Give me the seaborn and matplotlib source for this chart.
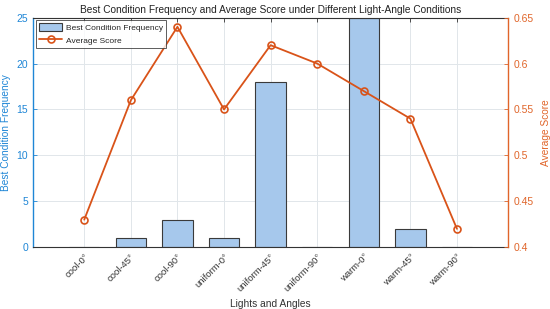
import numpy as np
import pandas as pd
import matplotlib
matplotlib.use("Agg")
import matplotlib.pyplot as plt
import seaborn as sns
from matplotlib.patches import Patch
from matplotlib.lines import Line2D

conditions = ["cool-0°", "cool-45°", "cool-90°", "uniform-0°", "uniform-45°",
              "uniform-90°", "warm-0°", "warm-45°", "warm-90°"]
best_freq = [0, 1, 3, 1, 18, 0, 25, 2, 0]
avg_score = [0.43, 0.56, 0.64, 0.55, 0.62, 0.60, 0.57, 0.54, 0.42]

blue = "#1f86d6"
orange = "#e0652a"
line_c = "#d95319"
bar_c = "#a6c8ec"

sns.set_style("white")
plt.rcParams["font.family"] = ["Liberation Sans", "DejaVu Sans"]

df = pd.DataFrame({"cond": conditions, "freq": best_freq, "score": avg_score,
                   "pos": np.arange(len(conditions))})

fig = plt.figure(figsize=(5.5, 3.09), dpi=100)
ax = fig.add_axes([0.06, 0.2, 0.864, 0.743])

sns.barplot(data=df, x="cond", y="freq", ax=ax, color=bar_c, saturation=1,
            width=0.65, edgecolor="#3a3a3a", linewidth=0.8, zorder=2)
ax.set_xlim(-1.1, 9.1)
ax.set_ylim(0, 25)
ax.set_yticks([0, 5, 10, 15, 20, 25])
ax.grid(True, color="#e1e6ea", linewidth=0.7, zorder=0)
ax.set_axisbelow(True)
ax.set_xlabel("Lights and Angles", fontsize=7.3, color="#333333", labelpad=4)
ax.set_ylabel("Best Condition Frequency", fontsize=7.3, color=blue, labelpad=4)
ax.tick_params(axis="y", colors=blue, labelsize=7.5, direction="in", length=3, width=0.6)
ax.tick_params(axis="x", colors="#333333", labelsize=6.8, direction="in", length=3,
               width=0.6, top=True, labelrotation=45)
for lbl in ax.get_xticklabels():
    lbl.set_ha("right")
    lbl.set_rotation_mode("anchor")
ax.spines["left"].set_color(blue)
ax.spines["left"].set_linewidth(1.0)
for s in ["top", "bottom"]:
    ax.spines[s].set_color("#333333")
    ax.spines[s].set_linewidth(0.8)
ax.spines["right"].set_visible(False)

ax2 = ax.twinx()
sns.lineplot(data=df, x="pos", y="score", ax=ax2, color=line_c, linewidth=1.3,
             marker="o", markersize=5, markerfacecolor="none",
             markeredgecolor=line_c, markeredgewidth=1.2, zorder=3)
ax2.set_xlim(-1.1, 9.1)
ax2.set_ylim(0.4, 0.65)
ax2.set_yticks([0.4, 0.45, 0.5, 0.55, 0.6, 0.65])
ax2.set_yticklabels(["0.4", "0.45", "0.5", "0.55", "0.6", "0.65"])
ax2.set_ylabel("Average Score", fontsize=7.3, color=orange, labelpad=5)
ax2.tick_params(axis="y", colors=orange, labelsize=7.5, direction="in", length=3, width=0.6,
                pad=4)
ax2.spines["right"].set_color(orange)
ax2.spines["right"].set_linewidth(1.0)
for s in ["left", "top", "bottom"]:
    ax2.spines[s].set_visible(False)

ax.set_title("Best Condition Frequency and Average Score under Different Light-Angle Conditions",
             fontsize=7.3, color="#222222", pad=3)

handles = [Patch(facecolor=bar_c, edgecolor="#3a3a3a", linewidth=0.8),
           Line2D([], [], color=line_c, linewidth=1.3, marker="o", markersize=5,
                  markerfacecolor="none", markeredgewidth=1.2)]
leg = ax2.legend(handles, ["Best Condition Frequency", "Average Score"], loc="upper left",
                 fontsize=6.0, frameon=True, fancybox=False, edgecolor="#333333",
                 borderaxespad=0.3, handlelength=2.8, handleheight=1.1, handletextpad=0.4,
                 borderpad=0.4, labelspacing=0.45)
leg.get_frame().set_linewidth(0.7)

fig.savefig("out.png", dpi=100)
